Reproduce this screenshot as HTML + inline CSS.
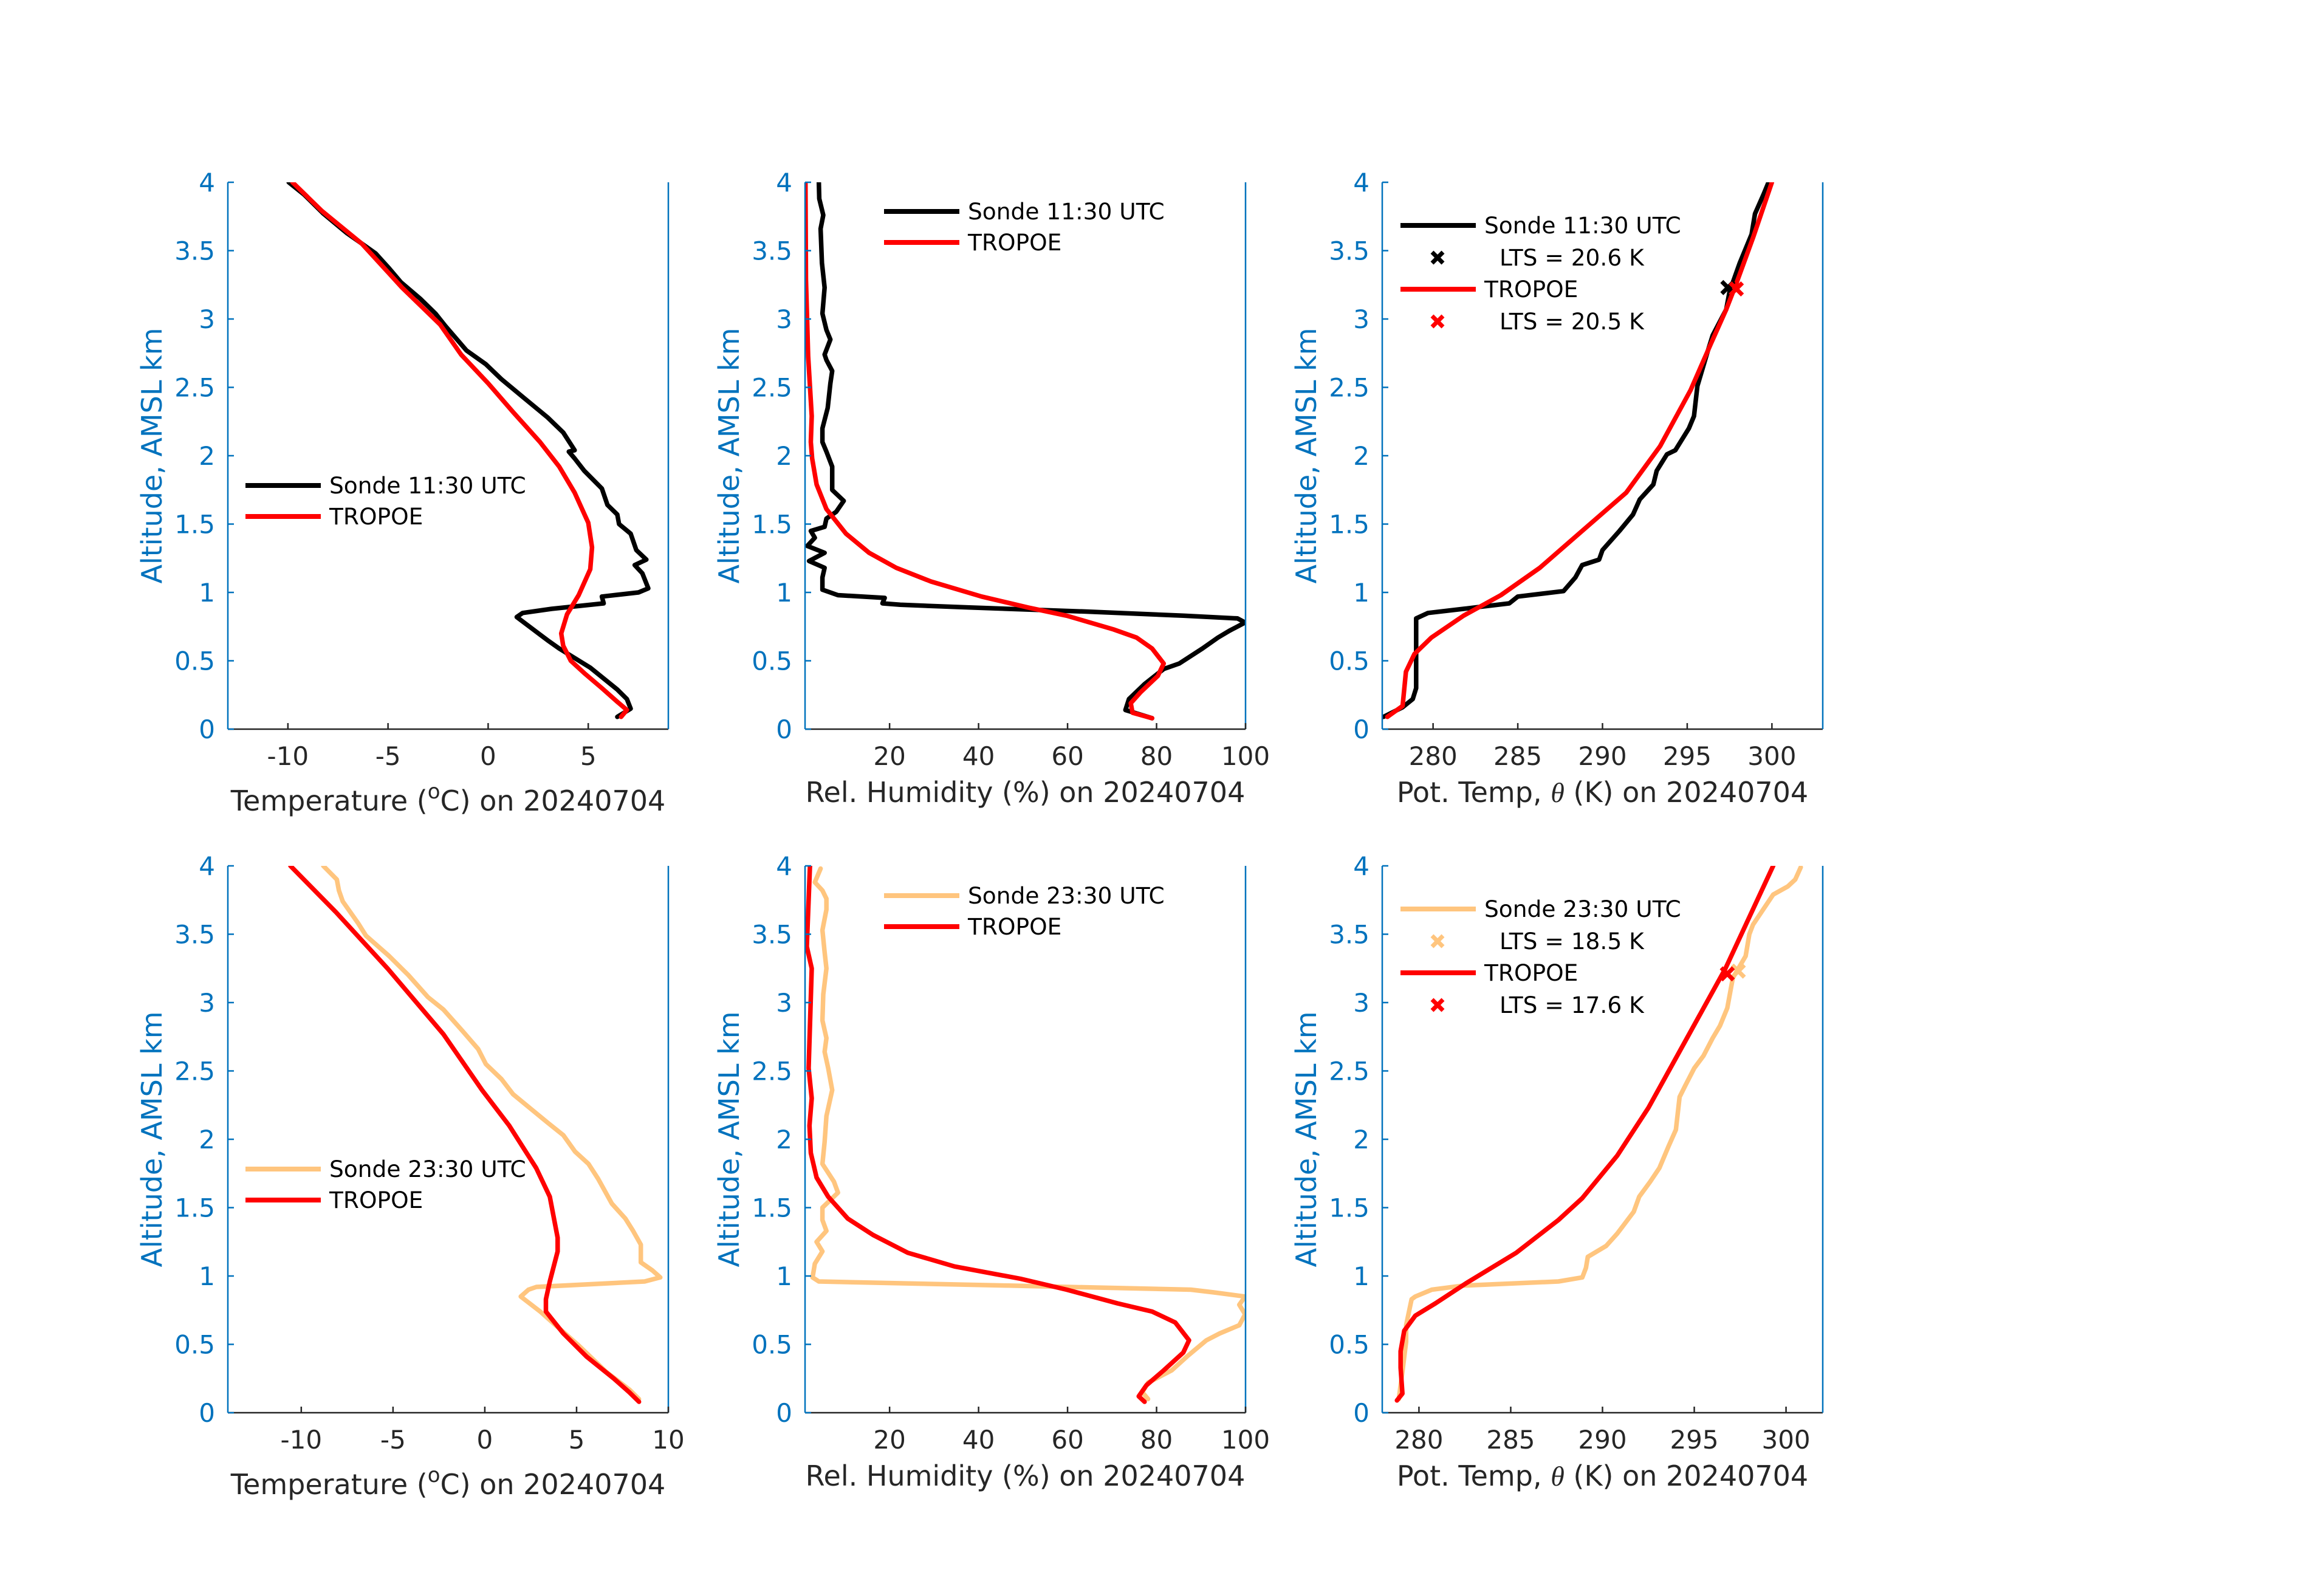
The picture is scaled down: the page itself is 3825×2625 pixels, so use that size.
<!DOCTYPE html>
<html><head><meta charset="utf-8"><style>
html,body{margin:0;padding:0;background:#fff;}
svg{display:block;font-family:"DejaVu Sans","Liberation Sans",sans-serif;}
</style></head><body>
<svg id="fig" xmlns="http://www.w3.org/2000/svg" width="3825" height="2625" viewBox="0 0 3825 2625">
<rect x="0" y="0" width="3825" height="2625" fill="#ffffff"/>
</svg>
<script>
// ---------- data (altitude km, value) ----------
// Panel 1: temperature, 11:30
const altT1S = [0.09,0.15,0.22,0.29,0.45,0.59,0.65,0.82,0.85,0.88,0.92,0.97,1.0,1.03,1.14,1.2,1.24,1.31,1.43,1.5,1.57,1.64,1.76,1.89,1.98,2.03,2.04,2.17,2.28,2.42,2.56,2.67,2.77,2.95,3.04,3.15,3.27,3.37,3.48,3.55,3.63,3.77,3.91,4.0];
const valT1S = [6.45,7.12,6.93,6.45,5.1,3.55,2.97,1.43,1.72,3.17,5.77,5.68,7.51,8.0,7.7,7.32,7.9,7.4,7.12,6.54,6.45,5.96,5.68,4.8,4.32,4.03,4.32,3.75,2.97,1.81,0.66,-0.12,-1.08,-2.14,-2.63,-3.4,-4.36,-4.94,-5.62,-6.29,-7.07,-8.22,-9.19,-9.96];
const altT1R = [0.09,0.14,0.2,0.3,0.41,0.5,0.61,0.7,0.84,0.98,1.17,1.33,1.51,1.73,1.92,2.1,2.32,2.53,2.74,2.96,3.23,3.55,3.79,4.0];
const valT1R = [6.64,6.93,6.45,5.68,4.8,4.13,3.75,3.65,3.94,4.52,5.1,5.19,5.0,4.32,3.55,2.59,1.24,0.0,-1.35,-2.4,-4.3,-6.3,-8.3,-9.77];
// Panel 2: RH, 11:30
const altH1S = [0.08,0.14,0.22,0.33,0.44,0.48,0.59,0.67,0.72,0.78,0.81,0.83,0.86,0.89,0.91,0.92,0.96,0.98,1.02,1.11,1.18,1.23,1.29,1.34,1.4,1.45,1.48,1.54,1.59,1.67,1.75,1.92,2.03,2.1,2.2,2.35,2.53,2.62,2.7,2.74,2.85,2.92,3.04,3.23,3.41,3.66,3.76,3.88,4.0];
const valH1S = [79,73,73.8,77.3,81.6,85.1,90.3,93.8,96.4,99.9,98.2,86,64.2,38,22.4,18.4,18.9,8.4,4.9,4.9,5.4,1.9,5.4,1.5,3.2,2.3,5.4,5.8,8,9.7,7.1,7.1,5.8,4.9,4.9,6.1,6.7,7.1,5.8,5.4,6.7,5.8,4.9,5.4,4.8,4.5,5.1,4.2,4.1];
const altH1R = [0.08,0.12,0.19,0.27,0.39,0.48,0.59,0.67,0.73,0.83,0.89,0.97,1.08,1.18,1.29,1.43,1.61,1.79,1.98,2.1,2.29,2.73,3.29,4.0];
const valH1R = [79,74.6,74.2,76.4,80.3,81.6,79,75.5,70.3,59.8,51.1,40.7,29.3,21.5,15.4,10.2,5.8,3.6,2.6,2.3,2.5,1.7,1.2,1.1];
// Panel 3: potential temperature, 11:30
const altP1S = [0.09,0.16,0.22,0.3,0.81,0.85,0.88,0.92,0.97,1.01,1.11,1.2,1.24,1.31,1.45,1.57,1.68,1.79,1.89,2.01,2.04,2.2,2.29,2.51,2.76,2.88,3.07,3.2,3.41,3.62,3.77,3.91,4.0];
const valP1S = [277.07,278.2,278.8,279.0,279.0,279.7,281.8,284.5,285.0,287.7,288.4,288.8,289.8,290.0,291.0,291.8,292.2,293.0,293.2,293.8,294.3,295.1,295.4,295.6,296.2,296.5,297.3,297.5,298.1,298.8,299.0,299.5,299.8];
const altP1R = [0.09,0.17,0.42,0.55,0.67,0.83,0.98,1.18,1.45,1.73,2.07,2.48,2.82,3.07,3.26,3.6,4.0];
const valP1R = [277.3,278.2,278.4,278.9,279.9,281.8,284.0,286.3,288.8,291.4,293.4,295.2,296.4,297.3,297.9,298.9,300.0];
const ltsAlt1 = [3.23, 3.22];
const ltsVal1 = [297.4, 297.9];
const ltsText1 = ["LTS = 20.6 K", "LTS = 20.5 K"];
// Panel 4: temperature, 23:30
const altT2S = [0.1,0.17,0.3,0.49,0.64,0.74,0.85,0.9,0.92,0.96,0.99,1.04,1.1,1.23,1.33,1.42,1.53,1.71,1.82,1.91,2.03,2.12,2.33,2.44,2.55,2.66,2.79,2.95,3.04,3.2,3.34,3.49,3.58,3.74,3.82,3.9,4.0];
const valT2S = [8.4,7.87,6.6,5.13,3.86,3.02,1.96,2.38,2.81,8.71,9.56,9.14,8.5,8.5,8.08,7.66,6.92,6.18,5.65,4.92,4.28,3.44,1.54,0.91,0.06,-0.36,-1.2,-2.26,-3.1,-4.16,-5.21,-6.48,-6.9,-7.74,-7.95,-8.06,-8.8];
const altT2R = [0.08,0.15,0.25,0.41,0.58,0.74,0.83,0.96,1.18,1.28,1.58,1.79,2.1,2.36,2.77,3.25,3.66,4.0];
const valT2R = [8.4,7.87,7.03,5.55,4.28,3.33,3.33,3.54,3.97,3.97,3.54,2.8,1.33,-0.15,-2.26,-5.3,-8.1,-10.59];
// Panel 5: RH, 23:30
const altH2S = [0.1,0.15,0.22,0.31,0.41,0.53,0.58,0.64,0.72,0.79,0.85,0.88,0.9,0.93,0.96,0.99,1.09,1.18,1.25,1.33,1.41,1.5,1.61,1.69,1.82,1.98,2.17,2.36,2.52,2.64,2.74,2.87,3.06,3.25,3.37,3.53,3.68,3.76,3.82,3.88,3.98];
const valH2S = [78.1,76.8,78.1,83.4,86.8,91.2,94.2,98.6,99.9,98.6,99.9,92.9,87.7,46.8,4.1,2.7,3.2,4.9,3.6,5.8,4.9,4.9,8.4,7.5,4.9,5.4,5.8,7.1,6.2,5.4,5.8,4.9,5.1,5.8,5.4,4.9,5.8,5.8,4.9,3.2,4.5];
const altH2R = [0.08,0.12,0.2,0.31,0.44,0.53,0.66,0.74,0.8,0.9,0.98,1.07,1.17,1.3,1.42,1.58,1.72,1.9,2.1,2.3,2.52,3.25,3.41,4.0];
const valH2R = [77.3,76,77.7,81.6,86,87.3,84.2,79,71.2,59.8,49.4,34.6,24.1,16.3,10.6,6.2,3.6,2.3,2.0,2.5,1.8,2.5,1.4,2.1];
// Panel 6: potential temperature, 23:30
const altP2S = [0.1,0.3,0.52,0.64,0.83,0.85,0.9,0.93,0.96,0.99,1.06,1.14,1.22,1.31,1.47,1.58,1.69,1.79,1.95,2.07,2.31,2.39,2.52,2.61,2.74,2.83,2.96,3.18,3.34,3.5,3.57,3.79,3.85,3.9,3.99];
const valP2S = [278.9,279.1,279.3,279.3,279.6,279.8,280.7,282.4,287.6,288.9,289.1,289.2,290.2,290.8,291.7,292.0,292.6,293.1,293.6,294.0,294.2,294.5,295.0,295.5,296.0,296.4,296.8,297.1,297.8,298.0,298.2,299.3,300.1,300.5,300.8];
const altP2R = [0.09,0.14,0.33,0.45,0.6,0.71,0.8,0.95,1.17,1.41,1.57,1.88,2.23,2.74,3.25,4.0];
const valP2R = [278.8,279.1,279.0,279.0,279.2,279.8,280.9,282.6,285.3,287.6,288.9,290.8,292.5,294.6,296.7,299.3];
const ltsAlt2 = [3.23, 3.21];
const ltsVal2 = [297.4, 296.8];
const ltsText2 = ["LTS = 18.5 K", "LTS = 17.6 K"];
// tick labels
const altTicks = [0,0.5,1,1.5,2,2.5,3,3.5,4];
const altTickLabels = ["0","0.5","1","1.5","2","2.5","3","3.5","4"];
const tTicks1 = [-10,-5,0,5];
const tTicks2 = [-10,-5,0,5,10];
const rhTicks = [20,40,60,80,100];
const ptTicks = [280,285,290,295,300];

// ---------- drawing ----------
const NS = "http://www.w3.org/2000/svg";
const svg = document.getElementById("fig");
const BLUE = "#0072BD", DARK = "#262626", ORANGE = "#FFC57E", RED = "#FF0000";
function mk(tag, attrs, parent){ const e = document.createElementNS(NS, tag); for (const k in attrs) e.setAttribute(k, attrs[k]); (parent||svg).appendChild(e); return e; }
function scale(d0,d1,r0,r1){ return v => r0 + (v-d0)/(d1-d0)*(r1-r0); }

function panel(p){
  const g = mk("g", {});
  
  
  const L=p.x, R=p.x+725, T=p.y, B=p.y+900;
  const sx = scale(p.xlim[0], p.xlim[1], L, R);
  const sy = scale(0, 4, B, T);
  const cid = "clip-" + p.name;
  const cp = mk("clipPath", {id: cid}, g);
  mk("rect", {x:L, y:T, width:725, height:900}, cp);
  p.series.forEach(s => {
    let d = "";
    s.alt.forEach((a,i) => { d += (i?"L":"M") + sx(s.val[i]).toFixed(1) + "," + sy(a).toFixed(1); });
    const path = mk("path", {d:d, fill:"none", stroke:s.color, "stroke-width":7.5, "stroke-linejoin":"round", "stroke-linecap":"round", "clip-path":"url(#"+cid+")"}, g);
    
    
  });
  if (p.lts){
    p.lts.val.forEach((v,i) => {
      const cx = sx(v), cy = sy(p.lts.alt[i]);
      const m = mk("path", {d:`M${cx-10},${cy-10}L${cx+10},${cy+10}M${cx-10},${cy+10}L${cx+10},${cy-10}`, stroke:p.lts.colors[i], "stroke-width":7, fill:"none"}, g);
      
      
    });
  }
  const xa = mk("line", {x1:L, y1:B, x2:R, y2:B, stroke:DARK, "stroke-width":2.5}, g);
  
  
  const ya = mk("line", {x1:L, y1:T, x2:L, y2:B, stroke:BLUE, "stroke-width":2.5}, g);
  
  
  const yr = mk("line", {x1:R, y1:T, x2:R, y2:B, stroke:BLUE, "stroke-width":2.5}, g);
  
  
  p.xticks.forEach(v => {
    const x = sx(v);
    mk("line", {x1:x, y1:B, x2:x, y2:B-10, stroke:DARK, "stroke-width":2.5}, g);
    const t = mk("text", {x:x, y:B+59, "text-anchor":"middle", "font-size":42, fill:DARK}, g);
    t.textContent = String(v);
    
    
  });
  altTicks.forEach((v,i) => {
    const y = sy(v);
    mk("line", {x1:L, y1:y, x2:L+10, y2:y, stroke:BLUE, "stroke-width":2.5}, g);
    const t = mk("text", {x:L-21, y:y+15, "text-anchor":"end", "font-size":42, fill:BLUE}, g);
    t.textContent = altTickLabels[i];
    
    
  });
  const yl = mk("text", {x:0, y:0, transform:`translate(${L-109},${(T+B)/2}) rotate(-90)`, "text-anchor":"middle", "font-size":46, fill:BLUE}, g);
  yl.textContent = "Altitude, AMSL km";
  
  
  const xl = mk("text", {x:(L+R)/2, y:B+p.xlabOff, "text-anchor":"middle", "font-size":46, fill:DARK}, g);
  xl.innerHTML = p.xlabel;
  
  
  const lg = mk("g", {}, g);
  
  
  p.legend.forEach((e, i) => {
    const y = p.legY[i];
    if (e.type === "line"){
      mk("line", {x1:p.legX, y1:y, x2:p.legX+124, y2:y, stroke:e.color, "stroke-width":8}, lg);
      const t = mk("text", {x:p.legX+138, y:y+13, "font-size":37.5, fill:"#000"}, lg);
      t.textContent = e.label;
      
      
    } else {
      const cx = p.legX+61;
      mk("path", {d:`M${cx-9},${y-9}L${cx+9},${y+9}M${cx-9},${y+9}L${cx+9},${y-9}`, stroke:e.color, "stroke-width":7}, lg);
      const t = mk("text", {x:p.legX+163, y:y+13, "font-size":37.5, fill:"#000"}, lg);
      t.textContent = e.label;
      
      
    }
  });
}

const tLab = 'Temperature (<tspan baseline-shift="super" font-size="34">o</tspan>C) on 20240704';
const rhLab = 'Rel. Humidity (%) on 20240704';
const ptLab = 'Pot. Temp, <tspan font-family="Liberation Serif, serif" font-style="italic">θ</tspan> (K) on 20240704';

panel({name:"temp-1130-panel", x:375, y:300, xlim:[-13,9], xticks:tTicks1, xlabel:tLab, xlabOff:134,
  series:[{name:"sonde-1130-temp-line", alt:altT1S, val:valT1S, color:"#000"},{name:"tropoe-temp-line", alt:altT1R, val:valT1R, color:RED}],
  legX:404, legY:[799,850], legend:[{type:"line",color:"#000",label:"Sonde 11:30 UTC"},{type:"line",color:RED,label:"TROPOE"}]});
panel({name:"rh-1130-panel", x:1325, y:300, xlim:[1,100], xticks:rhTicks, xlabel:rhLab, xlabOff:120,
  series:[{name:"sonde-1130-rh-line", alt:altH1S, val:valH1S, color:"#000"},{name:"tropoe-rh-line", alt:altH1R, val:valH1R, color:RED}],
  legX:1455, legY:[348,399], legend:[{type:"line",color:"#000",label:"Sonde 11:30 UTC"},{type:"line",color:RED,label:"TROPOE"}]});
panel({name:"theta-1130-panel", x:2275, y:300, xlim:[277,303], xticks:ptTicks, xlabel:ptLab, xlabOff:120,
  series:[{name:"sonde-1130-theta-line", alt:altP1S, val:valP1S, color:"#000"},{name:"tropoe-theta-line", alt:altP1R, val:valP1R, color:RED}],
  lts:{alt:ltsAlt1, val:ltsVal1, colors:["#000",RED]},
  legX:2305, legY:[371,424,476,529], legend:[{type:"line",color:"#000",label:"Sonde 11:30 UTC"},{type:"mark",color:"#000",label:ltsText1[0]},{type:"line",color:RED,label:"TROPOE"},{type:"mark",color:RED,label:ltsText1[1]}]});
panel({name:"temp-2330-panel", x:375, y:1425, xlim:[-14,10], xticks:tTicks2, xlabel:tLab, xlabOff:134,
  series:[{name:"sonde-2330-temp-line", alt:altT2S, val:valT2S, color:ORANGE},{name:"tropoe-temp-line", alt:altT2R, val:valT2R, color:RED}],
  legX:404, legY:[1924,1975], legend:[{type:"line",color:ORANGE,label:"Sonde 23:30 UTC"},{type:"line",color:RED,label:"TROPOE"}]});
panel({name:"rh-2330-panel", x:1325, y:1425, xlim:[1,100], xticks:rhTicks, xlabel:rhLab, xlabOff:120,
  series:[{name:"sonde-2330-rh-line", alt:altH2S, val:valH2S, color:ORANGE},{name:"tropoe-rh-line", alt:altH2R, val:valH2R, color:RED}],
  legX:1455, legY:[1474,1525], legend:[{type:"line",color:ORANGE,label:"Sonde 23:30 UTC"},{type:"line",color:RED,label:"TROPOE"}]});
panel({name:"theta-2330-panel", x:2275, y:1425, xlim:[278,302], xticks:ptTicks, xlabel:ptLab, xlabOff:120,
  series:[{name:"sonde-2330-theta-line", alt:altP2S, val:valP2S, color:ORANGE},{name:"tropoe-theta-line", alt:altP2R, val:valP2R, color:RED}],
  lts:{alt:ltsAlt2, val:ltsVal2, colors:[ORANGE,RED]},
  legX:2305, legY:[1496,1549,1601,1654], legend:[{type:"line",color:ORANGE,label:"Sonde 23:30 UTC"},{type:"mark",color:ORANGE,label:ltsText2[0]},{type:"line",color:RED,label:"TROPOE"},{type:"mark",color:RED,label:ltsText2[1]}]});
</script>
</body></html>
